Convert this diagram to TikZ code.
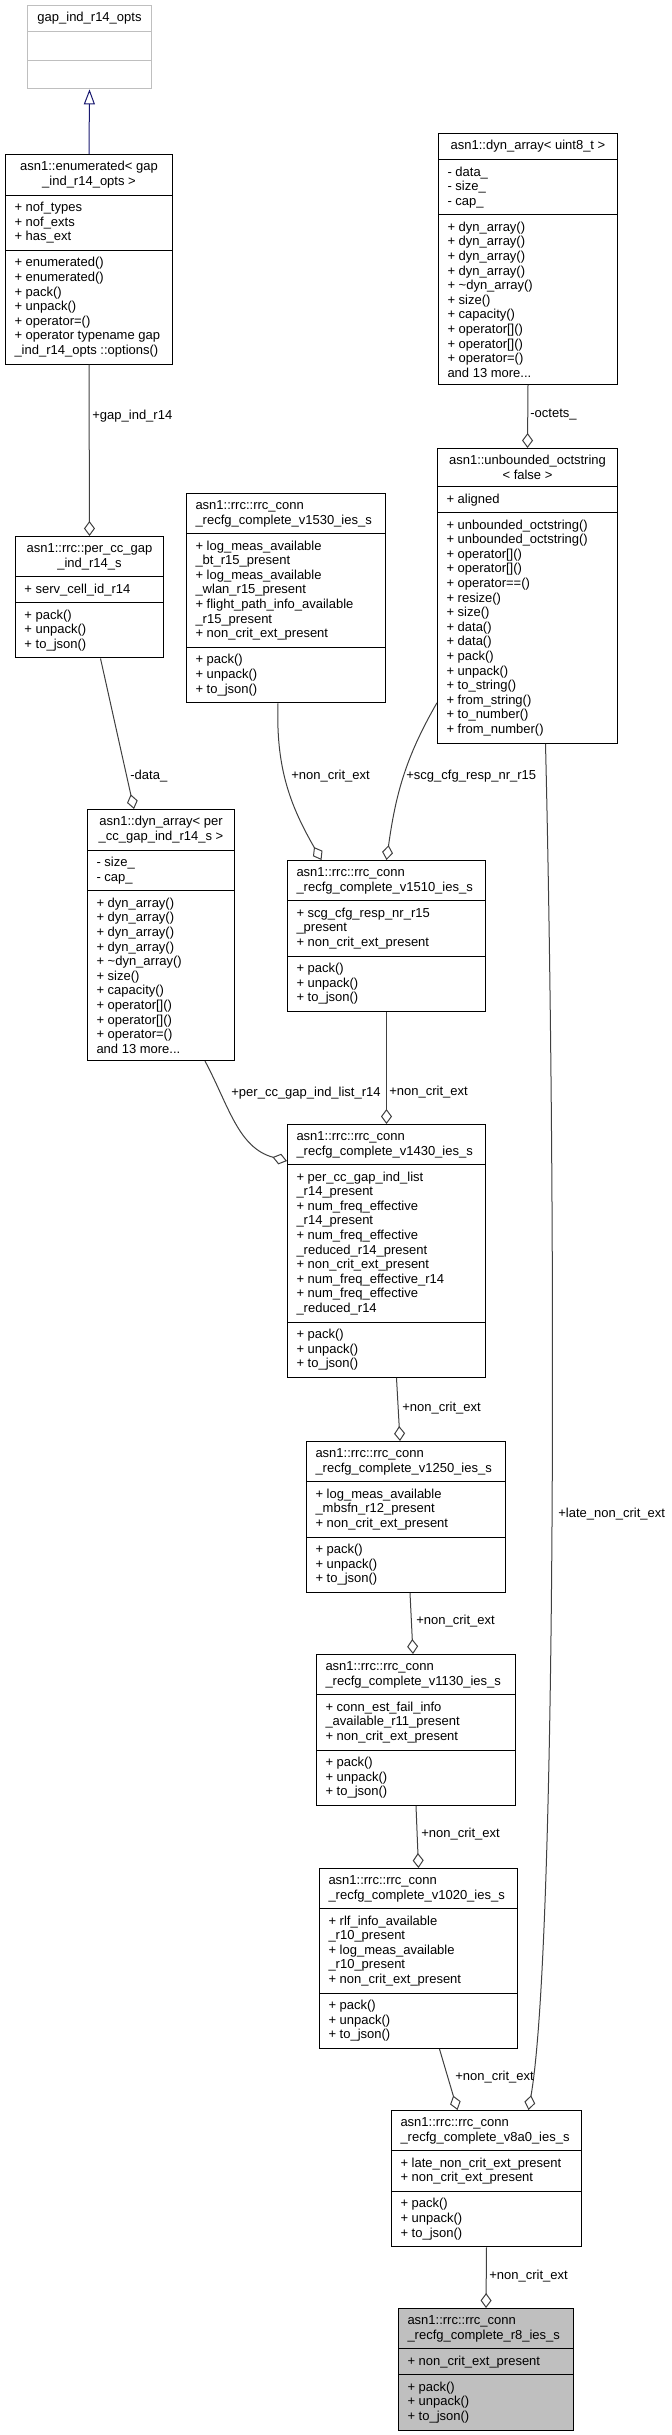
\documentclass[tikz,border=0pt]{standalone}
\usepackage{fontspec}
\setmainfont{Liberation Sans}
\usetikzlibrary{shapes.multipart, arrows.meta, calc}
\definecolor{edgegray}{HTML}{404040}
\definecolor{boxgray}{HTML}{BFBFBF}
\definecolor{inhblue}{HTML}{191970}
\newcommand{\ctline}[1]{\hbox to\hsize{\hfil#1\hfil}}

\begin{document}
\begin{tikzpicture}[x=0.5pt, y=0.5pt,
    classbox/.style={rectangle split, rectangle split parts=3, draw=black, line width=0.5pt,
        fill=white, align=flush left, inner xsep=4.5pt, inner ysep=3.25pt, anchor=north west,
        font=\fontsize{6.5}{7.3}\selectfont},
    aggr/.style={edgegray, line width=0.5pt, -{Diamond[open, length=7.5pt, width=5.5pt]}},
    inherit/.style={inhblue, line width=0.5pt, -{Triangle[open, length=7.5pt, width=5.5pt]}},
    lbl/.style={anchor=west, inner sep=0pt, font=\fontsize{6.5}{7.3}\selectfont}]

    \useasboundingbox (0,0) rectangle (671,-2435);

    % --- 左上: 枚举类型 ---
    \node[classbox, draw=boxgray, text width=53pt] (gapopts) at (27,-5)
        {\ctline{gap\_ind\_r14\_opts} \nodepart{two}\strut \nodepart{three}\strut};
    \node[classbox, text width=74.5pt] (enumopts) at (5,-154)
        {\ctline{asn1::enumerated<~gap}\\ \ctline{\_ind\_r14\_opts~>}
         \nodepart{two} + nof\_types\\ + nof\_exts\\ + has\_ext
         \nodepart{three} + enumerated()\\ + enumerated()\\ + pack()\\ + unpack()\\ + operator=()\\
         + operator~typename~gap\\ \_ind\_r14\_opts~::options()};
    \node[classbox, text width=65pt] (perccgap) at (15,-536)
        {\ctline{asn1::rrc::per\_cc\_gap}\\ \ctline{\_ind\_r14\_s}
         \nodepart{two} + serv\_cell\_id\_r14
         \nodepart{three} + pack()\\ + unpack()\\ + to\_json()};
    \node[classbox, text width=64.5pt] (dynpercc) at (87,-809)
        {\ctline{asn1::dyn\_array<~per}\\ \ctline{\_cc\_gap\_ind\_r14\_s~>}
         \nodepart{two} - size\_\\ - cap\_
         \nodepart{three} + dyn\_array()\\ + dyn\_array()\\ + dyn\_array()\\ + dyn\_array()\\
         + \textasciitilde dyn\_array()\\ + size()\\ + capacity()\\ + operator[]()\\ + operator[]()\\
         + operator=()\\ and 13 more...};

    % --- 右上: 字节串 ---
    \node[classbox, text width=80.5pt] (dynu8) at (438,-133)
        {\ctline{asn1::dyn\_array<~uint8\_t~>}
         \nodepart{two} - data\_\\ - size\_\\ - cap\_
         \nodepart{three} + dyn\_array()\\ + dyn\_array()\\ + dyn\_array()\\ + dyn\_array()\\
         + \textasciitilde dyn\_array()\\ + size()\\ + capacity()\\ + operator[]()\\ + operator[]()\\
         + operator=()\\ and 13 more...};
    \node[classbox, text width=81pt] (unbocts) at (437,-448)
        {\ctline{asn1::unbounded\_octstring}\\ \ctline{<~false~>}
         \nodepart{two} + aligned
         \nodepart{three} + unbounded\_octstring()\\ + unbounded\_octstring()\\ + operator[]()\\
         + operator[]()\\ + operator==()\\ + resize()\\ + size()\\ + data()\\ + data()\\ + pack()\\
         + unpack()\\ + to\_string()\\ + from\_string()\\ + to\_number()\\ + from\_number()};

    % --- rrc_conn_recfg_complete 链 ---
    \node[classbox, text width=90.5pt] (v1530) at (186,-493)
        {asn1::rrc::rrc\_conn\\ \_recfg\_complete\_v1530\_ies\_s
         \nodepart{two} + log\_meas\_available\\ \_bt\_r15\_present\\ + log\_meas\_available\\
         \_wlan\_r15\_present\\ + flight\_path\_info\_available\\ \_r15\_present\\ + non\_crit\_ext\_present
         \nodepart{three} + pack()\\ + unpack()\\ + to\_json()};
    \node[classbox, text width=90pt] (v1510) at (287,-860)
        {asn1::rrc::rrc\_conn\\ \_recfg\_complete\_v1510\_ies\_s
         \nodepart{two} + scg\_cfg\_resp\_nr\_r15\\ \_present\\ + non\_crit\_ext\_present
         \nodepart{three} + pack()\\ + unpack()\\ + to\_json()};
    \node[classbox, text width=90pt] (v1430) at (287,-1124)
        {asn1::rrc::rrc\_conn\\ \_recfg\_complete\_v1430\_ies\_s
         \nodepart{two} + per\_cc\_gap\_ind\_list\\ \_r14\_present\\ + num\_freq\_effective\\
         \_r14\_present\\ + num\_freq\_effective\\ \_reduced\_r14\_present\\ + non\_crit\_ext\_present\\
         + num\_freq\_effective\_r14\\ + num\_freq\_effective\\ \_reduced\_r14
         \nodepart{three} + pack()\\ + unpack()\\ + to\_json()};
    \node[classbox, text width=90.5pt] (v1250) at (306,-1441)
        {asn1::rrc::rrc\_conn\\ \_recfg\_complete\_v1250\_ies\_s
         \nodepart{two} + log\_meas\_available\\ \_mbsfn\_r12\_present\\ + non\_crit\_ext\_present
         \nodepart{three} + pack()\\ + unpack()\\ + to\_json()};
    \node[classbox, text width=90.5pt] (v1130) at (316,-1654)
        {asn1::rrc::rrc\_conn\\ \_recfg\_complete\_v1130\_ies\_s
         \nodepart{two} + conn\_est\_fail\_info\\ \_available\_r11\_present\\ + non\_crit\_ext\_present
         \nodepart{three} + pack()\\ + unpack()\\ + to\_json()};
    \node[classbox, text width=90pt] (v1020) at (319,-1868)
        {asn1::rrc::rrc\_conn\\ \_recfg\_complete\_v1020\_ies\_s
         \nodepart{two} + rlf\_info\_available\\ \_r10\_present\\ + log\_meas\_available\\
         \_r10\_present\\ + non\_crit\_ext\_present
         \nodepart{three} + pack()\\ + unpack()\\ + to\_json()};
    \node[classbox, text width=86pt] (v8a0) at (391,-2110)
        {asn1::rrc::rrc\_conn\\ \_recfg\_complete\_v8a0\_ies\_s
         \nodepart{two} + late\_non\_crit\_ext\_present\\ + non\_crit\_ext\_present
         \nodepart{three} + pack()\\ + unpack()\\ + to\_json()};
    \node[classbox, fill=boxgray, text width=78.5pt] (r8) at (398,-2308)
        {asn1::rrc::rrc\_conn\\ \_recfg\_complete\_r8\_ies\_s
         \nodepart{two} + non\_crit\_ext\_present
         \nodepart{three} + pack()\\ + unpack()\\ + to\_json()};

    % --- 连线 ---
    \draw[inherit] (enumopts.north) -- (gapopts.south);
    \draw[aggr] (enumopts.south) -- (perccgap.north);
    \draw[aggr] ($(perccgap.south)+(11,0)$) -- ($(dynpercc.north)+(-27,0)$);
    \draw[aggr] (dynu8.south) -- (unbocts.north);
    \draw[aggr] ($(v1530.south)+(-8,0)$) to[out=-92, in=120] ($(v1510.north)+(-65,0)$);
    \draw[aggr] ($(unbocts.south west)+(0,41)$) to[out=240, in=82] (v1510.north);
    \draw[aggr] (v1510.south) -- (v1430.north);
    \draw[aggr] ($(dynpercc.south)+(44,0)$) to[out=-62, in=165] ($(v1430.north west)+(0,-37)$);
    \draw[aggr] ($(v1430.south)+(10,0)$) -- ($(v1250.north)+(-6,0)$);
    \draw[aggr] ($(v1250.south)+(4,0)$) -- ($(v1130.north)+(-3,0)$);
    \draw[aggr] (v1130.south) -- (v1020.north);
    \draw[aggr] ($(v1020.south)+(21,0)$) -- ($(v8a0.north)+(-29,0)$);
    \draw[aggr] ($(unbocts.south)+(18,0)$)
        .. controls ($(unbocts.south)+(29,-456)$) and ($(v8a0.north)+(70,160)$)
        .. ($(v8a0.north)+(42,0)$);
    \draw[aggr] (v8a0.south) -- (r8.north);

    % 标注
    \node[lbl] (lgap) at (92,-416) {+gap\_ind\_r14};
    \node[lbl] (ldata) at (130,-776) {-data\_};
    \node[lbl] (locts) at (530,-415) {-octets\_};
    \node[lbl] (lnce1) at (291,-776) {+non\_crit\_ext};
    \node[lbl] (lscg) at (406,-776) {+scg\_cfg\_resp\_nr\_r15};
    \node[lbl] (lpercc) at (231,-1093) {+per\_cc\_gap\_ind\_list\_r14};
    \node[lbl] (lnce2) at (389,-1092) {+non\_crit\_ext};
    \node[lbl] (lnce3) at (402,-1408) {+non\_crit\_ext};
    \node[lbl] (lnce4) at (416,-1621) {+non\_crit\_ext};
    \node[lbl] (lnce5) at (421,-1834) {+non\_crit\_ext};
    \node[lbl] (lnce6) at (455,-2077) {+non\_crit\_ext};
    \node[lbl] (llate) at (558,-1514) {+late\_non\_crit\_ext};
    \node[lbl] (lnce7) at (489,-2276) {+non\_crit\_ext};

\end{tikzpicture}
\end{document}
